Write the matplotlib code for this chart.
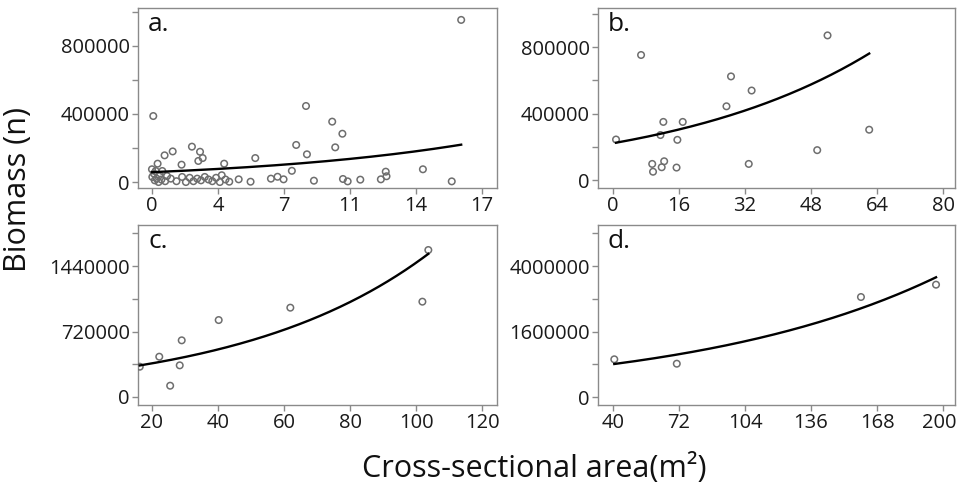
import numpy as np
import matplotlib
matplotlib.use('Agg')
import matplotlib.pyplot as plt
import matplotlib.transforms as mtransforms

plt.rcParams['font.family'] = ['Open Sans', 'DejaVu Sans']

# --- data ---
# panel a
a_x = [0.07, 0.0, 0.02, 0.1, 0.15, 0.2, 0.25, 0.3, 0.35, 0.4, 0.5, 0.55, 0.67, 0.7,
       0.8, 1.1, 1.0, 1.3, 1.57, 1.6, 1.8, 2.0, 2.12, 2.2, 2.4, 2.46, 2.55, 2.6, 2.69,
       2.8, 3.0, 3.2, 3.4, 3.6, 3.7, 3.83, 3.9, 4.1, 4.6, 5.23, 5.48, 6.31, 6.66, 6.98,
       7.42, 7.65, 8.17, 8.22, 8.59, 9.56, 9.72, 10.1, 10.13, 10.38, 11.05, 12.14,
       12.4, 12.44, 14.37, 15.9, 16.4]
a_y = [388000, 75000, 30000, 50000, 10000, 65000, 20000, 108000, 0, 40000, 15000,
       65000, 157000, 5000, 35000, 180000, 20000, 5000, 102000, 30000, 0, 25000,
       208000, 5000, 20000, 124000, 178000, 10000, 141000, 30000, 15000, 5000, 25000,
       0, 40000, 108000, 15000, 2000, 16000, 2000, 141000, 20000, 31000, 16000, 66000,
       218000, 447000, 163000, 8000, 355000, 204000, 284000, 18000, 4000, 14000,
       16000, 61000, 34000, 75000, 4000, 953000]
a_fit = (58000, 0.0812)

# panel b
b_x = [0.73, 6.8, 52.0, 28.6, 33.6, 27.5, 12.2, 16.9, 11.5, 15.6, 62.1, 49.5, 32.9,
       9.5, 9.7, 11.8, 12.4, 15.4]
b_y = [244000, 753000, 871000, 624000, 539000, 444000, 350000, 350000, 271000,
       242000, 303000, 180000, 97000, 97000, 50000, 77000, 113000, 75000]
b_fit = (221500, 0.01989)

# panel c
c_x = [16.3, 22.2, 25.5, 28.4, 29.0, 40.2, 61.9, 101.9, 103.7]
c_y = [333000, 443000, 124000, 348000, 623000, 846000, 982000, 1048000, 1616000]
c_fit = (261700, 0.0173)

# panel d (y in axis position units, labels below)
d_x = [40.6, 70.9, 160.2, 196.6]
d_y = [1151000, 1017000, 3053000, 3430000]
d_fit = (721000, 0.008257)

a_xticks = [0, 3.5, 7, 10.5, 14, 17.5]
a_xlabels = ['0', '4', '7', '11', '14', '17']
b_xticks = [0, 16, 32, 48, 64, 80]
c_xticks = [20, 40, 60, 80, 100, 120]
d_xticks = [40, 72, 104, 136, 168, 200]

ab_yticks = [0, 400000, 800000]
c_yticks = [0, 720000, 1440000]
d_yticks = [0, 2000000, 4000000]
d_ylabels = ['0', '1600000', '4000000']

W, H = 957, 484
fig = plt.figure(figsize=(W / 100, H / 100), dpi=100)


def box(l, t, r, b):
    return [l / W, 1 - b / H, (r - l) / W, (b - t) / H]


grey = '#8a8a8a'


def panel(rect, xs, ys, fit, letter, xlim, ylim, xticks, xlabels,
          yticks, ylabels, yminor):
    ax = fig.add_axes(rect)
    ax.scatter(xs, ys, marker='o', s=22, facecolors='none',
               edgecolors='#6e6e6e', linewidths=1.1, zorder=3)
    xx = np.linspace(min(xs), max(xs), 200)
    ax.plot(xx, fit[0] * np.exp(fit[1] * xx), color='black', lw=1.7, zorder=4)
    ax.set_xlim(*xlim)
    ax.set_ylim(*ylim)
    ax.set_xticks(xticks)
    ax.set_xticklabels(xlabels)
    ax.set_yticks(yticks)
    ax.set_yticklabels(ylabels)
    ax.set_yticks(yminor, minor=True)
    ax.tick_params(which='both', direction='out', length=4, width=1,
                   color=grey, labelsize=14.5, labelcolor='#1a1a1a', pad=2)
    for sp in ax.spines.values():
        sp.set_color(grey)
        sp.set_linewidth(1)
    ax.text(0.028, 0.872, letter, transform=ax.transAxes, fontsize=19,
            va='baseline', ha='left', color='#111111')
    return ax


panel(box(138, 8, 497, 188), a_x, a_y, a_fit, 'a.', (-0.74, 18.3), (-35000, 1023000),
      a_xticks, a_xlabels, ab_yticks, [str(v) for v in ab_yticks],
      [200000, 600000, 1000000])
panel(box(598, 8, 955, 188), b_x, b_y, b_fit, 'b.', (-3.64, 82.9), (-48000, 1036000),
      b_xticks, [str(v) for v in b_xticks], ab_yticks, [str(v) for v in ab_yticks],
      [200000, 600000, 1000000])
panel(box(138, 225, 497, 405), c_x, c_y, c_fit, 'c.', (15.76, 124.5), (-88000, 1891000),
      c_xticks, [str(v) for v in c_xticks], c_yticks, [str(v) for v in c_yticks],
      [360000, 1080000, 1800000])
ax_d = panel(box(598, 225, 955, 405), d_x, d_y, d_fit, 'd.', (32.7, 205.8),
             (-244000, 5252000), d_xticks, [str(v) for v in d_xticks],
             d_yticks, d_ylabels, [1000000, 3000000, 5000000])

# keep the last tick label inside the canvas, as in the reference
last = ax_d.get_xticklabels()[-1]
last.set_transform(last.get_transform() +
                   mtransforms.ScaledTranslation(-4 / 100, 0, fig.dpi_scale_trans))

fig.text(33 / W, 1 - 189 / H, 'Biomass (n)', rotation=90, fontsize=22,
         ha='right', va='center', color='#111111')
fig.text(534 / W, 1 - 477 / H, 'Cross-sectional area(m²)', fontsize=22,
         ha='center', va='baseline', color='#111111')

fig.savefig('out.png', dpi=100)
